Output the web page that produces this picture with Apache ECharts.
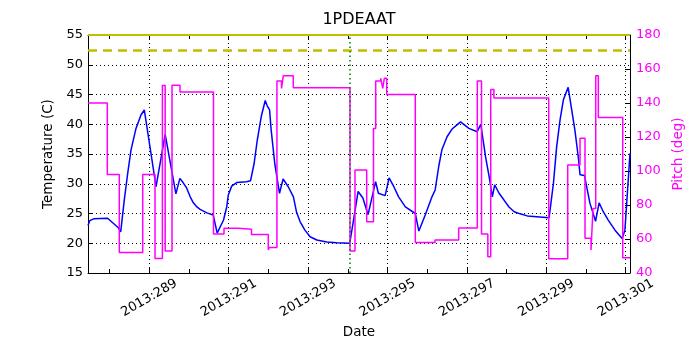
<!DOCTYPE html>
<html>
<head>
<meta charset="utf-8">
<title>1PDEAAT</title>
<script src="https://cdn.jsdelivr.net/npm/echarts@6/dist/echarts.min.js"></script>
<style>
  html, body { margin: 0; padding: 0; background: #fff; }
  #chart { width: 700px; height: 350px; }
</style>
</head>
<body>
<div id="chart"></div>
<script>
// day-of-year 2013
const tempDays = [
  287.456, 287.50, 287.60, 287.95, 288.22, 288.28, 288.37, 288.456, 288.54, 288.665,
  288.79, 288.874, 289.17, 289.40, 289.67, 289.77, 289.85, 289.94, 290.03, 290.11,
  290.20, 290.28, 290.45, 290.61, 290.71, 290.87, 290.95, 290.99, 291.075, 291.20,
  291.45, 291.55, 291.64, 291.72, 291.82, 291.92, 291.97, 292.03, 292.07, 292.16,
  292.28, 292.37, 292.50, 292.63, 292.71, 292.80, 292.92, 293.05, 293.22, 293.47,
  293.72, 294.05, 294.26, 294.38, 294.51, 294.70, 294.77, 294.94, 295.04, 295.16,
  295.28, 295.45, 295.70, 295.79, 295.95, 296.12, 296.20, 296.29, 296.37, 296.50,
  296.62, 296.75, 296.84, 297.05, 297.26, 297.35, 297.47, 297.56, 297.64, 297.70,
  297.81, 297.93, 298.06, 298.19, 298.36, 298.52, 299.07, 299.18, 299.26, 299.345,
  299.43, 299.55, 299.64, 299.72, 299.805, 299.85, 299.96, 300.10, 300.24, 300.33,
  300.435, 300.56, 300.73, 300.91, 300.98, 301.108
];
const tempValues = [
  23.0, 23.8, 24.1, 24.2, 22.6, 21.9, 27.3, 31.75, 35.7, 39.3,
  41.55, 42.4, 29.5, 38.3, 28.3, 30.9, 30.2, 29.3, 27.8, 26.8,
  26.1, 25.7, 25.1, 24.75, 21.7, 23.9, 26.1, 28.1, 29.6, 30.2,
  30.35, 30.5, 33.4, 37.35, 41.3, 44.0, 43.1, 42.4, 39.0, 33.4,
  28.4, 30.8, 29.5, 27.8, 25.2, 23.6, 22.2, 21.1, 20.55, 20.2,
  20.1, 20.0, 28.7, 27.6, 24.8, 30.35, 28.4, 28.0, 31.0, 29.5,
  27.8, 26.1, 25.0, 22.05, 24.75, 27.8, 28.95, 32.9, 35.7, 37.9,
  39.15, 39.9, 40.4, 39.3, 38.75, 40.0, 34.5, 31.2, 27.8, 29.8,
  28.4, 27.3, 26.1, 25.3, 24.9, 24.6, 24.3, 30.1, 36.2, 40.7,
  44.1, 46.2, 42.4, 39.0, 34.5, 31.5, 31.4, 26.7, 23.7, 26.8,
  25.3, 23.9, 22.2, 20.8, 22.2, 35.1
];

// pitch holds each value from its day until the next one
const pitchDays = [
  287.456, 287.942, 288.244, 288.834, 289.144, 289.330, 289.400, 289.572, 289.773, 290.617,
  290.882, 291.234, 291.574, 291.997, 292.020, 292.215, 292.330, 292.375, 292.627, 294.055,
  294.181, 294.476, 294.647, 294.703, 294.830, 294.880, 294.920, 294.980, 295.700, 296.196,
  296.793, 297.262, 297.368, 297.527, 297.600, 297.680, 299.061, 299.539, 299.849, 299.975,
  300.126, 300.176, 300.245, 300.310, 300.925, 301.108
];
const pitchValues = [
  140, 98, 52, 98, 48.5, 150.3, 53, 150.5, 146.5, 63,
  66.3, 65.8, 62.6, 53.5, 55, 153, 148.6, 156, 149, 53,
  100.6, 70.2, 125, 153, 154.5, 148.6, 154.5, 145, 58, 59.4,
  66.5, 153, 63, 49.6, 148, 143, 48.4, 103.5, 119.2, 60.5,
  53.5, 78, 156, 131.4, 49, 49
];

const majorDays = [289, 291, 293, 295, 297, 299, 301];
const minorDays = [288, 290, 292, 294, 296, 298, 300];
const allDays = [288, 289, 290, 291, 292, 293, 294, 295, 296, 297, 298, 299, 300, 301];

const limitHigh = 55;
const limitPlanning = 52.5;
const markerDay = 294.05;

const font = "DejaVu Sans";
const xMin = 287.456;
const xMax = 301.108;

const chart = echarts.init(document.getElementById("chart"));

const hiddenX = {
  type: "value",
  min: xMin,
  max: xMax,
  axisLabel: { show: false },
  splitLine: { show: false },
};

const option = {
  animation: false,
  backgroundColor: "#fff",
  title: {
    text: "1PDEAAT",
    left: 359,
    textAlign: "center",
    top: 12,
    padding: 0,
    textStyle: { fontFamily: font, fontSize: 16, fontWeight: "normal", color: "#000" },
  },
  grid: { left: 88, right: 70, top: 35, bottom: 77 },
  xAxis: [
    {
      type: "value",
      position: "bottom",
      min: xMin,
      max: xMax,
      name: "Date",
      nameLocation: "middle",
      nameGap: 50,
      nameTextStyle: { fontFamily: font, fontSize: 13.5, color: "#000" },
      axisLine: { show: true, lineStyle: { color: "#000", width: 1 } },
      axisTick: { inside: true, length: 5, customValues: majorDays, lineStyle: { color: "#000" } },
      axisLabel: {
        customValues: majorDays,
        formatter: (v) => "2013:" + v,
        rotate: 30,
        align: "center",
        verticalAlign: "middle",
        margin: 25,
        fontFamily: font,
        fontSize: 13,
        color: "#000",
      },
      splitLine: { show: true, lineStyle: { color: "#000", type: [1, 3], width: 1 } },
    },
    Object.assign({}, hiddenX, {
      position: "bottom",
      axisLine: { show: false },
      axisTick: { inside: true, length: 4, customValues: minorDays, lineStyle: { color: "#000" } },
    }),
    Object.assign({}, hiddenX, {
      position: "top",
      axisLine: { show: true, lineStyle: { color: "#000", width: 1 } },
      axisTick: { inside: true, length: 4, customValues: allDays, lineStyle: { color: "#000" } },
    }),
  ],
  yAxis: [
    {
      type: "value",
      position: "left",
      min: 15,
      max: 55,
      interval: 5,
      name: "Temperature (C)",
      nameLocation: "middle",
      nameRotate: 90,
      nameGap: 31,
      nameTextStyle: { fontFamily: font, fontSize: 13.5, color: "#000" },
      axisLine: { show: true, lineStyle: { color: "#000", width: 1 } },
      axisTick: { show: true, inside: true, length: 5, lineStyle: { color: "#000" } },
      axisLabel: { margin: 5, fontFamily: font, fontSize: 13, color: "#000" },
      splitLine: { show: true, lineStyle: { color: "#000", type: [1, 3], width: 1 } },
    },
    {
      type: "value",
      position: "right",
      min: 40,
      max: 180,
      interval: 20,
      name: "Pitch (deg)",
      nameLocation: "middle",
      nameRotate: 90,
      nameGap: 38,
      nameTextStyle: { fontFamily: font, fontSize: 13.5, color: "#ff00ff" },
      axisLine: { show: true, lineStyle: { color: "#000", width: 1 } },
      axisTick: { show: true, inside: true, length: 5, lineStyle: { color: "#000" } },
      axisLabel: { margin: 6, fontFamily: font, fontSize: 13, color: "#ff00ff" },
      splitLine: { show: false },
    },
  ],
  series: [
    {
      name: "1PDEAAT",
      type: "line",
      xAxisIndex: 0,
      yAxisIndex: 0,
      data: tempDays.map((d, i) => [d, tempValues[i]]),
      showSymbol: false,
      lineStyle: { color: "#0000ff", width: 1.5 },
      itemStyle: { color: "#0000ff" },
      z: 3,
      markLine: {
        silent: true,
        symbol: "none",
        label: { show: false },
        data: [
          { yAxis: limitHigh, lineStyle: { color: "#bfbf00", width: 2, type: "solid" } },
          { yAxis: limitPlanning, lineStyle: { color: "#bfbf00", width: 2.5, type: [9, 6] } },
          { xAxis: markerDay, lineStyle: { color: "#008000", width: 1.5, type: [1.5, 3] } },
        ],
      },
    },
    {
      name: "Pitch",
      type: "line",
      xAxisIndex: 0,
      yAxisIndex: 1,
      step: "end",
      data: pitchDays.map((d, i) => [d, pitchValues[i]]),
      showSymbol: false,
      lineStyle: { color: "#ff00ff", width: 1.5 },
      itemStyle: { color: "#ff00ff" },
      z: 4,
    },
  ],
};

chart.setOption(option);
</script>
</body>
</html>
